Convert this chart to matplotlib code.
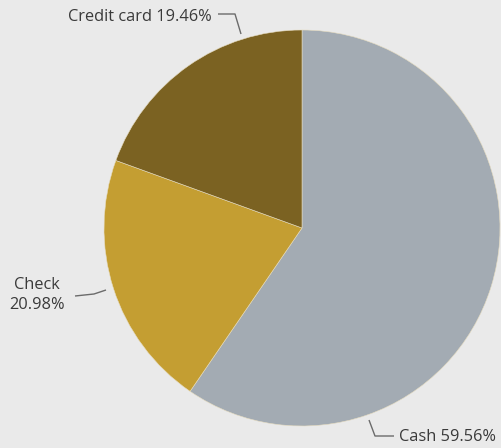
import matplotlib.pyplot as plt

# Payment types share
categories = ['Cash', 'Check', 'Credit card']
shares = [59.56, 20.98, 19.46]
labels = ['Cash 59.56%', 'Check\n20.98%', 'Credit card 19.46%']

colors = ['#a3abb3', '#c49e32', '#7b6222']
bg = '#eaeaea'
text_color = '#3a3a3a'
line_color = '#6b6b6b'

W, H = 502, 448

fig = plt.figure(figsize=(W / 100, H / 100), dpi=100, facecolor=bg)
ax = fig.add_axes([0, 0, 1, 1])
ax.set_facecolor(bg)

# pie centred in pixel coords (y measured from bottom)
cx, cy, r = 302, H - 228, 198
ax.pie(shares, colors=colors, startangle=90, counterclock=False,
       center=(cx, cy), radius=r, frame=True,
       wedgeprops=dict(edgecolor='#e6dcc0', linewidth=0.4))
ax.set_xlim(0, W)
ax.set_ylim(0, H)
ax.set_aspect('equal')
ax.axis('off')

# leader lines (pixel coords, top-left origin) and label anchors
leaders = [
    [(369, 420), (375, 436), (394, 436)],
    [(106, 290), (94, 294), (75, 296)],
    [(241, 34), (235, 14), (218, 14)],
]
anchors = [
    (399, 437, 'left', 'center'),
    (37, 295, 'center', 'center'),
    (212, 17, 'right', 'center'),
]

for pts, (tx, ty, ha, va), lab in zip(leaders, anchors, labels):
    xs = [p[0] for p in pts]
    ys = [H - p[1] for p in pts]
    ax.plot(xs, ys, color=line_color, lw=1, solid_capstyle='butt')
    ax.text(tx, H - ty, lab, ha=ha, va=va, fontsize=11.8,
            family='Open Sans', color=text_color, linespacing=1.35)

fig.savefig('out.png', dpi=100, facecolor=bg)
